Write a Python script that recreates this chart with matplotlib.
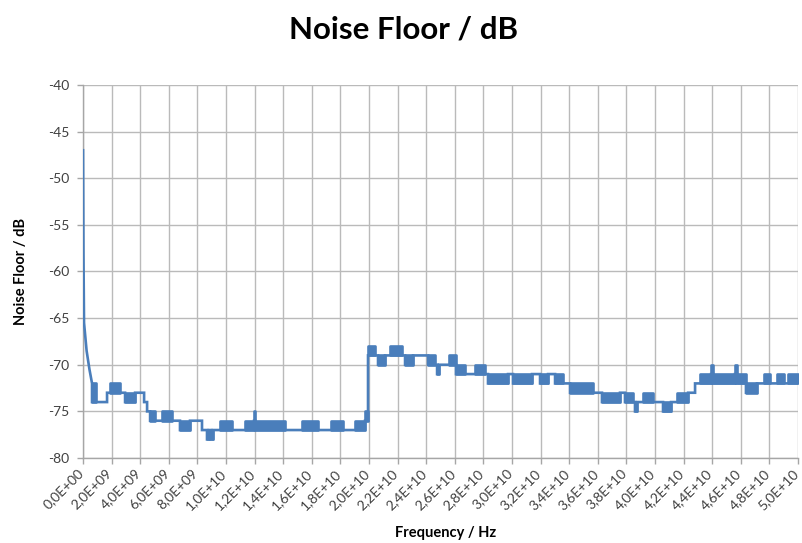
import matplotlib
matplotlib.use('Agg')
import matplotlib.pyplot as plt
import matplotlib.transforms as mtransforms

# ---- data ----
# initial fast decay near 0 Hz (GHz, dB)
decay_freq_ghz = [0.0, 0.03, 0.07, 0.25, 0.45, 0.63]
decay_level_db = [-47, -58, -65.5, -68.5, -70.5, -72]

# stepped noise floor: each segment spans [start, end] GHz; where top != bottom the
# trace toggles rapidly between the two levels (drawn as a solid band)
seg_start_ghz = [0.63, 0.91, 1.68, 1.89, 2.59, 2.94, 3.64, 4.27, 4.48, 4.69,
                 5.03, 5.52, 6.22, 6.78, 7.48, 8.32, 8.67, 8.81, 8.95, 9.09,
                 9.58, 10.42, 11.33, 11.96, 12.03, 14.13, 15.31, 16.43, 17.34, 18.18,
                 19.02, 19.72, 19.93, 20.42, 20.63, 21.12, 21.47, 22.31, 22.52, 23.08,
                 24.13, 24.62, 24.76, 24.90, 25.59, 26.08, 26.71, 27.41, 28.11, 28.32,
                 29.72, 30.07, 31.40, 31.96, 32.52, 33.01, 33.57, 34.06, 35.66, 36.29,
                 37.55, 37.90, 38.46, 38.60, 38.74, 39.16, 39.86, 40.56, 41.12, 41.54,
                 42.31, 42.80, 43.15, 43.92, 44.06, 45.59, 45.73, 46.36, 47.13, 47.62,
                 48.04, 48.53, 49.02, 49.30]
seg_end_ghz = seg_start_ghz[1:] + [50.0]
seg_top_db = [-72, -74, -73, -72, -73, -73, -73, -74, -75, -75,
              -76, -75, -76, -76, -76, -77, -77, -77, -77, -77,
              -76, -77, -76, -75, -76, -77, -76, -77, -76, -77,
              -76, -75, -68, -69, -69, -69, -68, -69, -69, -69,
              -69, -70, -70, -70, -69, -70, -71, -70, -71, -71,
              -71, -71, -71, -71, -71, -71, -72, -72, -73, -73,
              -73, -73, -74, -74, -74, -73, -74, -74, -74, -73,
              -73, -72, -71, -70, -71, -70, -71, -72, -72, -71,
              -72, -71, -72, -71]
seg_bottom_db = [-74, -74, -73, -73, -73, -74, -73, -74, -75, -76,
                 -76, -76, -76, -77, -76, -77, -78, -77, -78, -77,
                 -77, -77, -77, -76, -77, -77, -77, -77, -77, -77,
                 -77, -76, -69, -69, -70, -69, -69, -69, -70, -69,
                 -70, -70, -71, -70, -70, -71, -71, -71, -71, -72,
                 -71, -72, -71, -72, -71, -72, -72, -73, -73, -74,
                 -73, -74, -74, -75, -74, -74, -74, -75, -74, -74,
                 -73, -72, -72, -71, -72, -71, -72, -73, -72, -72,
                 -72, -72, -72, -72]

x_ticks_hz = [i * 2e9 for i in range(26)]
x_tick_labels = ["0,0E+00", "2,0E+09", "4,0E+09", "6,0E+09", "8,0E+09",
                 "1,0E+10", "1,2E+10", "1,4E+10", "1,6E+10", "1,8E+10",
                 "2,0E+10", "2,2E+10", "2,4E+10", "2,6E+10", "2,8E+10",
                 "3,0E+10", "3,2E+10", "3,4E+10", "3,6E+10", "3,8E+10",
                 "4,0E+10", "4,2E+10", "4,4E+10", "4,6E+10", "4,8E+10",
                 "5,0E+10"]
y_ticks = [-80, -75, -70, -65, -60, -55, -50, -45, -40]

# ---- plot ----
plt.rcParams['font.family'] = ['Lato', 'DejaVu Sans']
LINE = '#4A7EBB'
LW = 1.9
GRID = '#BABABA'
TICKTXT = '#404040'

fig = plt.figure(figsize=(8.03, 5.43), dpi=100)
ax = fig.add_axes([0.1034, 0.1565, 0.8904, 0.687])

xs = [f * 1e9 for f in decay_freq_ghz]
ys = list(decay_level_db)
for s, e, t, b in zip(seg_start_ghz, seg_end_ghz, seg_top_db, seg_bottom_db):
    xs += [s * 1e9, e * 1e9]
    ys += [b, b]
    if t != b:
        ax.fill_between([s * 1e9, e * 1e9], [b, b], [t, t], color=LINE,
                        edgecolor=LINE, linewidth=LW, zorder=3)
ax.plot(xs, ys, color=LINE, linewidth=LW, zorder=3, solid_joinstyle='miter')

ax.set_xlim(0, 5e10)
ax.set_ylim(-80, -40)
ax.set_xticks(x_ticks_hz)
ax.set_xticklabels([''] * len(x_ticks_hz))
lbl_trans = ax.get_xaxis_transform() + mtransforms.ScaledTranslation(
    1 / 100, -16 / 100, fig.dpi_scale_trans)
for xv, lab in zip(x_ticks_hz, x_tick_labels):
    ax.text(xv, 0, lab, transform=lbl_trans, rotation=45, rotation_mode='anchor',
            ha='right', va='baseline', fontsize=10, color=TICKTXT, clip_on=False)

ax.set_yticks(y_ticks)
ax.set_yticklabels([str(v) for v in y_ticks], fontsize=10, color=TICKTXT)
ax.grid(True, color=GRID, linewidth=1.0, zorder=0)
ax.set_axisbelow(True)
for side in ['top', 'right']:
    ax.spines[side].set_visible(False)
for side in ['left', 'bottom']:
    ax.spines[side].set_color('#A6A6A6')
    ax.spines[side].set_linewidth(1.0)
ax.tick_params(axis='both', length=4, color='#A6A6A6', width=1.0)
ax.tick_params(axis='y', pad=6)

fig.text(0.502, 0.945, 'Noise Floor / dB', ha='center', va='center',
         fontsize=22.5, fontweight='bold', color='black')
ax.set_ylabel('Noise Floor / dB', fontsize=10.5, fontweight='bold', labelpad=14)
fig.text(0.555, 0.005, 'Frequency / Hz', ha='center', va='bottom',
         fontsize=10.5, fontweight='bold')

fig.savefig('out.png', dpi=100)
